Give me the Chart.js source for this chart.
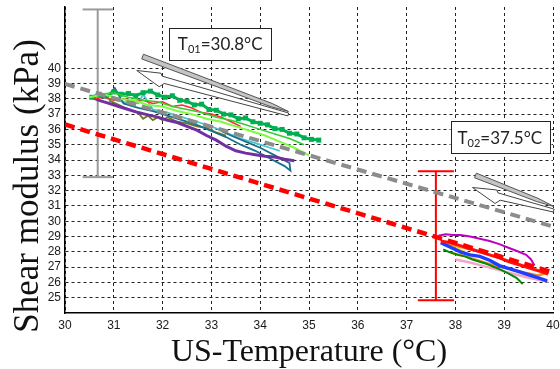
<!DOCTYPE html>
<html>
<head>
<meta charset="utf-8">
<script src="https://cdn.jsdelivr.net/npm/chart.js@4.4.0/dist/chart.umd.min.js"></script>
<style>
  html, body { margin: 0; padding: 0; background: #fff; }
</style>
</head>
<body>
<canvas id="chart" width="560" height="369"></canvas>
<script>
// axis ticks
var xTicks = [30, 31, 32, 33, 34, 35, 36, 37, 38, 39, 40];
var yTicks = [25, 26, 27, 28, 29, 30, 31, 32, 33, 34, 35, 36, 37, 38, 39, 40];
var xTitle = "US-Temperature (\u00B0C)";
var yTitle = "Shear modulus (kPa)";

// fitted lines (two end points each)
var fit01X = [30, 40];
var fit01Y = [38.97, 29.65];
var fit02X = [30, 40];
var fit02Y = [36.32, 26.65];

// error bars: gray (T01) and red (T02)
var errX = [30.67, 37.6];
var errLow = [32.88, 24.84];
var errHigh = [43.84, 33.27];
var errCap = [0.31, 0.37];

// group 1 (around T01)
var g1GreenX = [30.55, 30.7, 30.85, 31.0, 31.15, 31.3, 31.45, 31.6, 31.75, 31.9, 32.05, 32.2, 32.35, 32.5, 32.65, 32.8, 32.95, 33.1, 33.25, 33.4, 33.55, 33.7, 33.85, 34.0, 34.15, 34.3, 34.45, 34.6, 34.75, 34.9, 35.05, 35.2];
var g1GreenY = [38.1, 38.3, 38.2, 38.45, 38.3, 38.35, 38.2, 38.4, 38.5, 38.25, 38.1, 38.2, 37.9, 37.85, 37.6, 37.65, 37.3, 37.25, 37.0, 36.95, 36.7, 36.75, 36.5, 36.4, 36.3, 36.05, 36.0, 35.75, 35.7, 35.45, 35.35, 35.3];
var g1LimeX = [30.5, 30.8, 31.1, 31.4, 31.7, 32.0, 32.3, 32.6, 32.9, 33.2, 33.5, 33.8, 34.1, 34.4, 34.7, 35.0];
var g1LimeY = [38.1, 38.3, 38.0, 37.9, 37.6, 37.5, 37.2, 37.0, 36.7, 36.5, 36.2, 35.9, 35.6, 35.2, 34.8, 34.3];
var g1LightGreenX = [30.7, 31.0, 31.3, 31.6, 31.9, 32.2, 32.5, 32.8, 33.1, 33.4, 33.7, 34.0, 34.3, 34.6, 34.9];
var g1LightGreenY = [38.3, 38.4, 38.1, 37.9, 37.8, 37.5, 37.3, 37.1, 36.8, 36.6, 36.3, 36.0, 35.7, 35.4, 35.0];
var g1RedX = [30.6, 30.8, 31.0, 31.2, 31.4, 31.6, 31.8, 32.0, 32.2, 32.4, 32.6, 32.8, 33.0, 33.2, 33.4, 33.6];
var g1RedY = [38.0, 38.1, 37.9, 38.0, 37.8, 37.9, 37.7, 37.8, 37.5, 37.6, 37.4, 37.1, 37.0, 36.8, 36.5, 36.2];
var g1PurpleX = [30.55, 30.7, 30.9, 31.1, 31.3, 31.5, 31.7, 31.9, 32.1, 32.3, 32.5, 32.7, 32.9, 33.1, 33.3, 33.5, 33.7, 33.9, 34.1, 34.3, 34.5, 34.7];
var g1PurpleY = [38.1, 37.9, 37.7, 37.5, 37.3, 37.1, 36.95, 36.8, 36.6, 36.45, 36.2, 35.95, 35.6, 35.3, 34.9, 34.6, 34.45, 34.35, 34.25, 34.2, 34.05, 33.95];
var g1TealX = [30.6, 30.85, 31.02, 31.2, 31.5, 31.8, 32.1, 32.4, 32.7, 33.0, 33.3, 33.6, 33.9, 34.2, 34.5, 34.62, 34.6, 34.3, 34.0, 33.7, 33.4, 33.2];
var g1TealY = [38.2, 38.1, 38.7, 37.7, 37.4, 37.2, 36.9, 36.6, 36.3, 35.9, 35.5, 35.0, 34.6, 34.1, 33.6, 33.3, 33.8, 34.3, 34.8, 35.2, 35.6, 35.9];
var g1CyanX = [30.6, 30.9, 31.2, 31.5, 31.6, 31.8, 32.1, 32.4, 32.7, 33.0, 33.3, 33.6, 33.9, 34.2, 34.4];
var g1CyanY = [38.2, 38.0, 37.8, 37.7, 38.3, 37.3, 37.1, 36.8, 36.5, 36.2, 35.8, 35.4, 35.1, 34.8, 34.6];
var g1OliveX = [30.9, 31.1, 31.3, 31.5, 31.6, 31.7, 31.8, 31.9, 32.0, 32.1, 32.3, 32.5, 32.7, 32.9, 33.1, 33.3];
var g1OliveY = [37.9, 37.6, 37.3, 37.1, 36.7, 36.9, 36.6, 36.8, 36.6, 36.8, 36.5, 36.4, 36.2, 36.1, 35.8, 35.6];

// group 2 (around T02)
var g2MagentaX = [37.65, 37.8, 37.95, 38.1, 38.3, 38.5, 38.7, 38.9, 39.1, 39.3, 39.45, 39.55, 39.62];
var g2MagentaY = [29.05, 29.15, 29.1, 29.1, 29.0, 28.85, 28.7, 28.5, 28.25, 28.0, 27.8, 27.5, 27.1];
var g2RedX = [37.7, 37.9, 38.1, 38.3, 38.5, 38.7, 38.9, 39.1, 39.3, 39.5, 39.7, 39.9];
var g2RedY = [28.7, 28.6, 28.4, 28.2, 28.0, 27.8, 27.6, 27.35, 27.15, 26.95, 26.75, 26.55];
var g2OrangeX = [37.75, 38.0, 38.25, 38.5, 38.75, 39.0, 39.25, 39.5, 39.75, 39.85, 39.7, 39.4, 39.1, 38.8, 38.5, 38.2, 37.95];
var g2OrangeY = [28.55, 28.4, 28.2, 28.0, 27.75, 27.5, 27.25, 27.0, 26.75, 26.6, 26.45, 26.65, 26.9, 27.1, 27.4, 27.7, 27.9];
var g2BlueX = [37.7, 37.9, 38.1, 38.3, 38.5, 38.7, 38.9, 39.1, 39.3, 39.5, 39.7, 39.88];
var g2BlueY = [28.6, 28.3, 28.0, 27.8, 27.7, 27.45, 27.1, 26.9, 26.7, 26.5, 26.3, 26.1];
var g2GreenX = [37.75, 37.9, 38.05, 38.2, 38.35, 38.5, 38.65, 38.8, 38.95, 39.1, 39.25, 39.38];
var g2GreenY = [28.15, 27.95, 27.8, 27.7, 27.5, 27.35, 27.2, 27.0, 26.8, 26.55, 26.3, 25.9];
var g2PinkX = [38.0, 38.3, 38.6, 38.9, 39.2, 39.5, 39.8, 39.9];
var g2PinkY = [27.5, 27.3, 27.05, 26.8, 26.55, 26.3, 26.1, 26.05];
var g2YellowX = [37.75, 37.9, 38.05, 38.2];
var g2YellowY = [28.45, 28.3, 28.2, 28.0];

// annotations (data units)
var notes = [
  { sub: "01", value: "=30.8\u00B0C", box: [32.14, 42.6, 34.22, 40.5],
    sliver: [31.59, 40.76, 34.58, 37.17], hollow: [31.47, 39.85, 34.58, 37.04] },
  { sub: "02", value: "=37.5\u00B0C", box: [37.9, 36.52, 39.92, 34.42],
    sliver: [38.41, 32.99, 40.02, 30.96], hollow: [38.35, 32.2, 40.02, 30.76] }
];

function pts(xs, ys) {
  return xs.map(function (x, i) { return { x: x, y: ys[i] }; });
}

function line(data, color, width, order, extra) {
  var ds = {
    data: data, borderColor: color, backgroundColor: color, borderWidth: width,
    pointRadius: 0, tension: 0, fill: false, order: order
  };
  for (var k in extra || {}) ds[k] = extra[k];
  return ds;
}

var datasets = [
  line(pts(fit01X, fit01Y), "#8c8c8c", 4, 0, { borderDash: [10, 6] }),
  line(pts(fit02X, fit02Y), "#ff0000", 4.5, 0, { borderDash: [10, 6] }),

  line(pts(g1GreenX, g1GreenY), "#00b050", 3, 5, { pointRadius: 1.4, pointStyle: "rect" }),
  line(pts(g1LimeX, g1LimeY), "#7cfc3c", 2, 4),
  line(pts(g1LightGreenX, g1LightGreenY), "#33cc33", 1.5, 4),
  line(pts(g1RedX, g1RedY), "#ff2a2a", 1.5, 6),
  line(pts(g1PurpleX, g1PurpleY), "#7030a0", 3, 7),
  line(pts(g1TealX, g1TealY), "#1b6f8a", 1.8, 8),
  line(pts(g1CyanX, g1CyanY), "#40c8d0", 1.8, 8),
  line(pts(g1OliveX, g1OliveY), "#6b7b1d", 1.8, 9),

  line(pts(g2MagentaX, g2MagentaY), "#c000c0", 2, 6),
  line(pts(g2RedX, g2RedY), "#ff1010", 3, 5),
  line(pts(g2OrangeX, g2OrangeY), "#f39020", 2.5, 7),
  line(pts(g2PinkX, g2PinkY), "#f4a6c8", 2.5, 8),
  line(pts(g2BlueX, g2BlueY), "#1f3fff", 3.5, 5),
  line(pts(g2GreenX, g2GreenY), "#008a00", 2, 4),
  line(pts(g2YellowX, g2YellowY), "#e8e020", 2, 9)
];

// error bars as small line segments
var errColors = ["#9a9a9a", "#ff0000"];
errX.forEach(function (x, i) {
  datasets.push(line([{ x: x, y: errLow[i] }, { x: x, y: errHigh[i] }], errColors[i], 2, 50));
  datasets.push(line([{ x: x - errCap[i], y: errLow[i] }, { x: x + errCap[i], y: errLow[i] }], errColors[i], 2, 50));
  datasets.push(line([{ x: x - errCap[i], y: errHigh[i] }, { x: x + errCap[i], y: errHigh[i] }], errColors[i], 2, 50));
});

function unit(ax, ay, bx, by) {
  var dx = bx - ax, dy = by - ay, l = Math.sqrt(dx * dx + dy * dy);
  return { dx: dx / l, dy: dy / l, nx: -dy / l, ny: dx / l, len: l };
}

var extras = {
  id: "extras",
  afterDraw: function (chart) {
    var ctx = chart.ctx, xs = chart.scales.x, ys = chart.scales.y, a = chart.chartArea;
    var X = function (v) { return xs.getPixelForValue(v); };
    var Y = function (v) { return ys.getPixelForValue(v); };

    notes.forEach(function (n) {
      // filled sliver
      var s = n.sliver, x0 = X(s[0]), y0 = Y(s[1]), x1 = X(s[2]), y1 = Y(s[3]);
      var u = unit(x0, y0, x1, y1), w = 2.5;
      ctx.save();
      ctx.beginPath();
      ctx.moveTo(x0 + u.nx * w, y0 + u.ny * w);
      ctx.lineTo(x1 - u.dx * 18 + u.nx * w * 0.7, y1 - u.dy * 18 + u.ny * w * 0.7);
      ctx.lineTo(x1, y1);
      ctx.lineTo(x1 - u.dx * 18 - u.nx * w * 0.7, y1 - u.dy * 18 - u.ny * w * 0.7);
      ctx.lineTo(x0 - u.nx * w, y0 - u.ny * w);
      ctx.closePath();
      ctx.fillStyle = "#c4c4c4";
      ctx.fill();
      ctx.strokeStyle = "#555";
      ctx.lineWidth = 1;
      ctx.stroke();

      // hollow arrow (tip at left)
      var h = n.hollow, tx = X(h[0]), ty = Y(h[1]), ex = X(h[2]), ey = Y(h[3]);
      var v = unit(tx, ty, ex, ey);
      var P = function (along, side) { return [tx + v.dx * along + v.nx * side, ty + v.dy * along + v.ny * side]; };
      var poly = [P(0, 0), P(24, -4), P(26, -1.5), [ex - v.nx * 0.5, ey - v.ny * 0.5],
                  [ex + v.nx * 2.5, ey + v.ny * 2.5], P(30, 5), P(26, 9.5)];
      ctx.beginPath();
      ctx.moveTo(poly[0][0], poly[0][1]);
      for (var i = 1; i < poly.length; i++) ctx.lineTo(poly[i][0], poly[i][1]);
      ctx.closePath();
      ctx.fillStyle = "#fff";
      ctx.fill();
      ctx.strokeStyle = "#444";
      ctx.stroke();

      // label box
      var b = n.box, bx0 = X(b[0]), by0 = Y(b[1]), bx1 = X(b[2]), by1 = Y(b[3]);
      ctx.fillStyle = "#fff";
      ctx.fillRect(bx0, by0, bx1 - bx0, by1 - by0);
      ctx.strokeStyle = "#222";
      ctx.strokeRect(Math.round(bx0) + 0.5, Math.round(by0) + 0.5, Math.round(bx1 - bx0), Math.round(by1 - by0));

      var big = "17px Lato, 'Open Sans', sans-serif", small = "11px Lato, 'Open Sans', sans-serif";
      ctx.font = big;
      var wT = ctx.measureText("T").width, wV = ctx.measureText(n.value).width;
      ctx.font = small;
      var wS = ctx.measureText(n.sub).width;
      var total = wT + wS + wV;
      var sx = (bx0 + bx1) / 2 - total / 2, base = (by0 + by1) / 2 + 6;
      ctx.fillStyle = "#222";
      ctx.textBaseline = "alphabetic";
      ctx.textAlign = "left";
      ctx.font = big;
      ctx.fillText("T", sx, base);
      ctx.font = small;
      ctx.fillText(n.sub, sx + wT, base + 3);
      ctx.font = big;
      ctx.fillText(n.value, sx + wT + wS, base);
      ctx.restore();
    });

    // axis titles
    ctx.save();
    ctx.fillStyle = "#111";
    ctx.textAlign = "center";
    ctx.textBaseline = "alphabetic";
    ctx.font = "32px 'Liberation Serif', 'Times New Roman', serif";
    ctx.fillText(xTitle, (a.left + a.right) / 2, 361);
    ctx.translate(38, 186);
    ctx.rotate(-Math.PI / 2);
    ctx.font = "35px 'Liberation Serif', 'Times New Roman', serif";
    ctx.fillText(yTitle, 0, 0);
    ctx.restore();
  }
};

Chart.defaults.font.family = "'Liberation Sans', Arial, sans-serif";
Chart.defaults.font.size = 12;
Chart.defaults.color = "#1a1a1a";

new Chart(document.getElementById("chart"), {
  type: "line",
  data: { datasets: datasets },
  plugins: [extras],
  options: {
    responsive: false,
    animation: false,
    layout: { padding: { left: 0, right: 4, top: 7, bottom: 0 } },
    plugins: { legend: { display: false }, tooltip: { enabled: false } },
    scales: {
      x: {
        type: "linear", min: 30, max: 40,
        afterBuildTicks: function (s) { s.ticks = xTicks.map(function (v) { return { value: v }; }); },
        afterFit: function (s) { s.height = 56; s.paddingLeft = 0; s.paddingRight = 0; },
        ticks: { autoSkip: false, maxRotation: 0, padding: 5 },
        grid: { color: "#222", lineWidth: 1, drawTicks: false },
        border: { display: true, color: "#000", width: 1.5, dash: [3, 3] }
      },
      y: {
        type: "linear", min: 24, max: 44,
        afterBuildTicks: function (s) { s.ticks = yTicks.map(function (v) { return { value: v }; }); },
        afterFit: function (s) { s.width = 65; s.paddingTop = 0; s.paddingBottom = 0; },
        ticks: { autoSkip: false, padding: 4 },
        grid: { color: "#222", lineWidth: 1, drawTicks: false },
        border: { display: true, color: "#000", width: 1.5, dash: [3, 3] }
      }
    }
  }
});
</script>
</body>
</html>
